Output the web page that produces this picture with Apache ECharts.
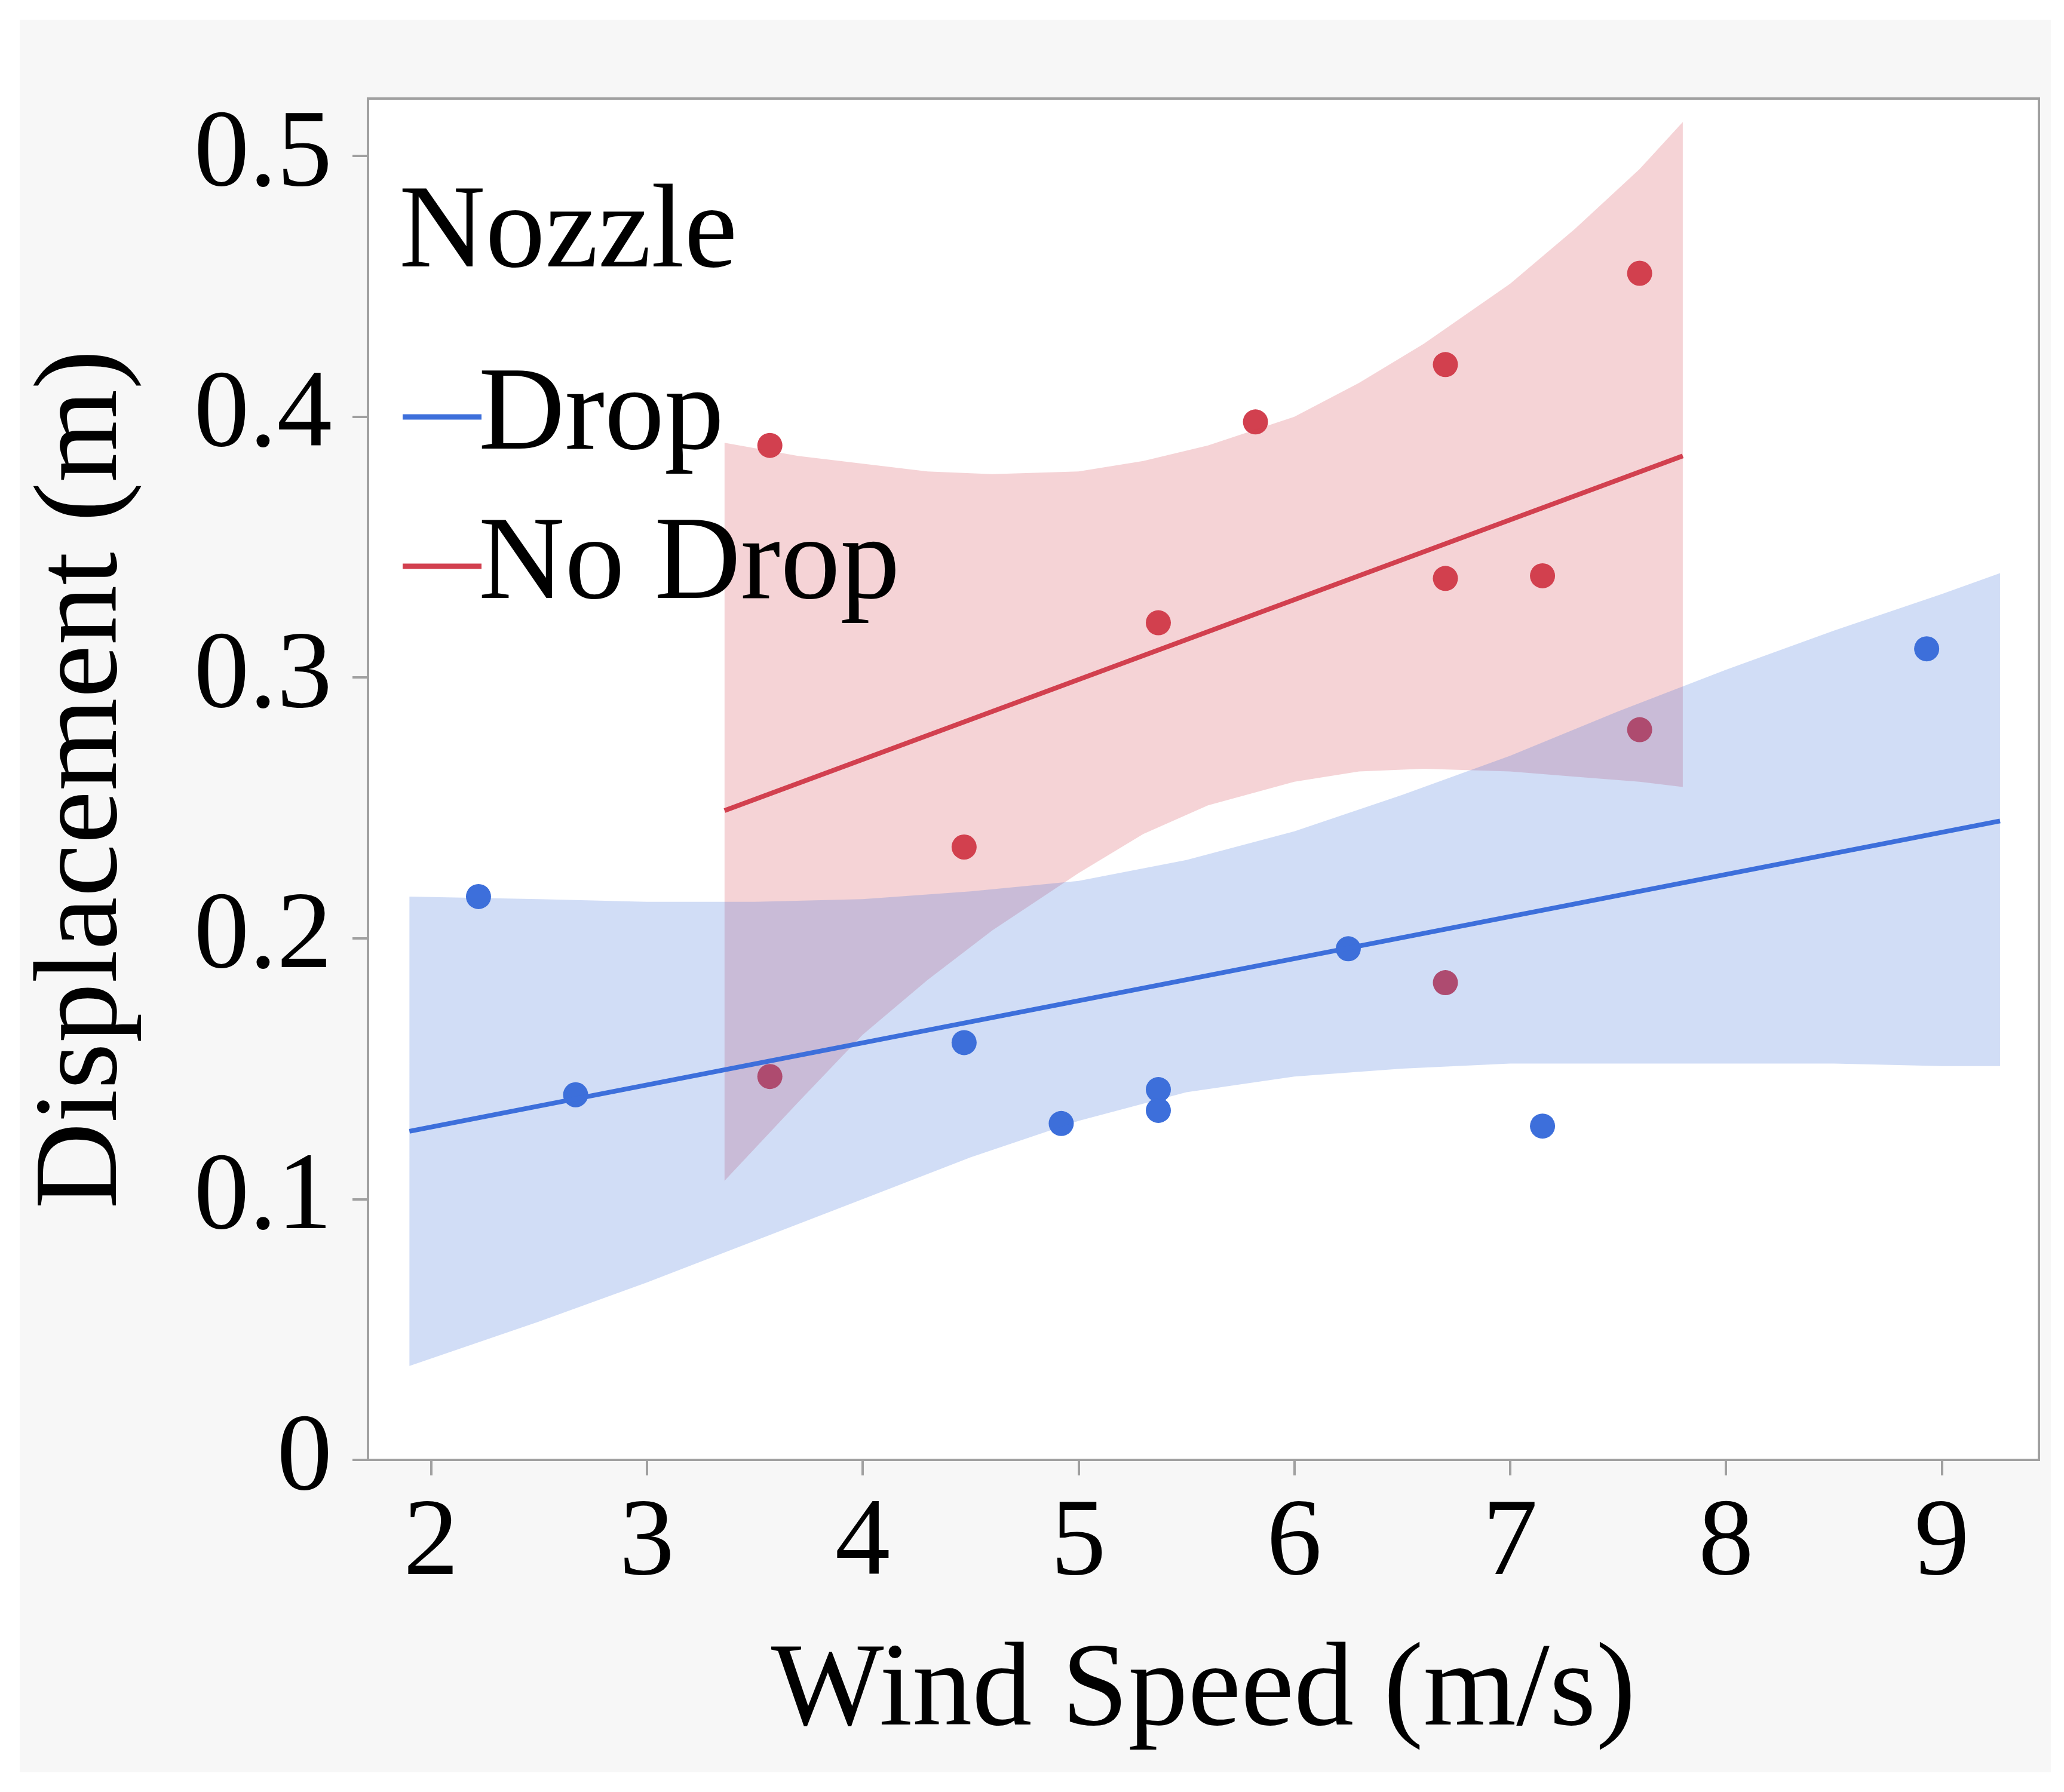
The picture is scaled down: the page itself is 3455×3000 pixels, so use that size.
<!DOCTYPE html>
<html>
<head>
<meta charset="utf-8">
<script src="https://cdn.jsdelivr.net/npm/echarts@6/dist/echarts.min.js"></script>
<style>
  html, body { margin: 0; padding: 0; background: #fff; }
  #chart { position: absolute; left: 33px; top: 33px; width: 3400px; height: 2934px; background: #f7f7f7; }
</style>
</head>
<body>
<div id="chart"></div>
<script>
// scatter points [wind speed, displacement]
const dropPoints = [
  [2.22, 0.216], [2.67, 0.140], [4.47, 0.160], [4.92, 0.129], [5.37, 0.142],
  [5.37, 0.134], [6.25, 0.196], [7.15, 0.128], [8.93, 0.311]
];
const noDropPoints = [
  [3.57, 0.389], [3.57, 0.147], [4.47, 0.235], [5.37, 0.321], [5.82, 0.398],
  [6.70, 0.420], [6.70, 0.338], [6.70, 0.183], [7.15, 0.339], [7.60, 0.455],
  [7.60, 0.280]
];
// fit lines
const dropFit = [[1.90, 0.126], [9.27, 0.245]];
const noDropFit = [[3.36, 0.249], [7.80, 0.385]];
// confidence bands [x, lower, upper]
const dropBand = [
  [1.90, 0.036, 0.216], [2.5, 0.053, 0.215], [3.0, 0.068, 0.214], [3.5, 0.084, 0.214],
  [4.0, 0.100, 0.215], [4.5, 0.116, 0.218], [5.0, 0.130, 0.222], [5.5, 0.141, 0.230],
  [6.0, 0.147, 0.241], [6.5, 0.150, 0.255], [7.0, 0.152, 0.270], [7.5, 0.152, 0.287],
  [8.0, 0.152, 0.303], [8.5, 0.152, 0.318], [9.0, 0.151, 0.332], [9.27, 0.151, 0.340]
];
const noDropBand = [
  [3.36, 0.107, 0.390], [3.7, 0.137, 0.385], [4.0, 0.163, 0.382], [4.3, 0.184, 0.379],
  [4.6, 0.203, 0.378], [5.0, 0.225, 0.379], [5.3, 0.240, 0.383], [5.6, 0.251, 0.389],
  [6.0, 0.260, 0.400], [6.3, 0.264, 0.413], [6.6, 0.265, 0.428], [7.0, 0.264, 0.451],
  [7.3, 0.262, 0.472], [7.6, 0.260, 0.495], [7.80, 0.258, 0.513]
];
const xTicks = [2, 3, 4, 5, 6, 7, 8, 9];
const yTicks = [0, 0.1, 0.2, 0.3, 0.4, 0.5];

const BLUE = '#3d6fdb';
const RED = '#d2404f';
const FONT = 'Liberation Serif';

const bandSeries = (band, color) => ({
  type: 'custom',
  z: 3,
  silent: true,
  data: band,
  encode: { x: 0, y: [1, 2] },
  renderItem: (params, api) => {
    if (params.dataIndex !== 0) return;
    const upper = band.map(d => api.coord([d[0], d[2]]));
    const lower = band.map(d => api.coord([d[0], d[1]])).reverse();
    return {
      type: 'polygon',
      shape: { points: upper.concat(lower), smooth: 0 },
      style: { fill: color, stroke: 'none' }
    };
  }
});

const chart = echarts.init(document.getElementById('chart'));
chart.setOption({
  animation: false,
  title: {
    text: 'Nozzle',
    left: 630, top: 255,
    textStyle: { fontFamily: FONT, fontSize: 200, fontWeight: 'normal', color: '#000' }
  },
  legend: {
    orient: 'vertical',
    left: 636, top: 560,
    itemWidth: 132, itemHeight: 9, itemGap: 50,
    data: [
      { name: 'Drop', icon: 'rect' },
      { name: 'No Drop', icon: 'rect' }
    ],
    textStyle: { fontFamily: FONT, fontSize: 200, color: '#000', padding: [0, 0, 0, -10] }
  },
  grid: {
    left: 577, right: 20, top: 132, bottom: 523,
    show: true, backgroundColor: '#fff', borderColor: '#a0a0a0', borderWidth: 4
  },
  xAxis: {
    type: 'value', min: 1.708, max: 9.45,
    name: 'Wind Speed (m/s)', nameLocation: 'middle', nameGap: 290,
    nameTextStyle: { fontFamily: FONT, fontSize: 200, color: '#000' },
    axisLine: { show: false },
    axisTick: { show: true, length: 26, customValues: xTicks, lineStyle: { color: '#a0a0a0', width: 4 } },
    axisLabel: { customValues: xTicks, margin: 50, fontFamily: FONT, fontSize: 185, color: '#000' },
    splitLine: { show: false }
  },
  yAxis: {
    type: 'value', min: 0, max: 0.522,
    name: 'Displacement (m)', nameLocation: 'middle', nameGap: 375,
    nameTextStyle: { fontFamily: FONT, fontSize: 200, color: '#000' },
    axisLine: { show: false },
    axisTick: { show: true, length: 26, customValues: yTicks, lineStyle: { color: '#a0a0a0', width: 4 } },
    axisLabel: { customValues: yTicks, margin: 60, fontFamily: FONT, fontSize: 185, color: '#000' },
    splitLine: { show: false }
  },
  series: [
    { name: 'Drop', type: 'scatter', z: 1, data: dropPoints, symbolSize: 42, itemStyle: { color: BLUE, opacity: 1 } },
    { name: 'No Drop', type: 'scatter', z: 1, data: noDropPoints, symbolSize: 42, itemStyle: { color: RED, opacity: 1 } },
    bandSeries(noDropBand, 'rgba(210,64,79,0.23)'),
    bandSeries(dropBand, 'rgba(61,111,219,0.24)'),
    { name: 'Drop', type: 'line', z: 5, data: dropFit, showSymbol: false, lineStyle: { color: BLUE, width: 8 }, itemStyle: { color: BLUE } },
    { name: 'No Drop', type: 'line', z: 5, data: noDropFit, showSymbol: false, lineStyle: { color: RED, width: 8 }, itemStyle: { color: RED } }
  ]
});
</script>
</body>
</html>
